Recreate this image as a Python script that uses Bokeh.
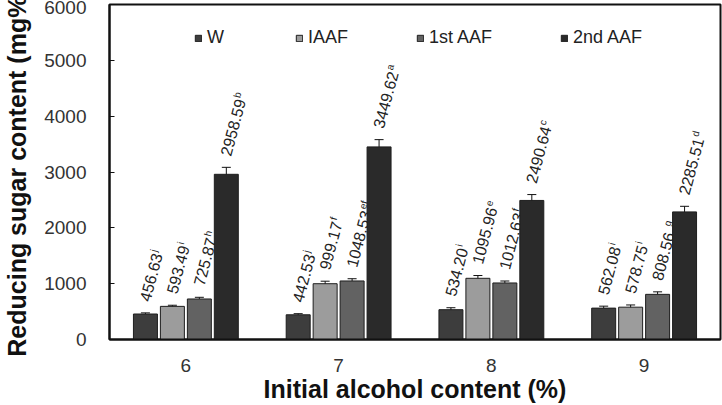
import math
from bokeh.plotting import figure
from bokeh.models import ColumnDataSource, Whisker, TeeHead, FixedTicker, Legend, LegendItem
from bokeh.core.properties import value
from bokeh.embed import file_html
from bokeh.resources import INLINE

# Initial alcohol content (%) groups
alcohol = [6, 7, 8, 9]
tick_labels = {6: "6", 7: "7", 8: "8", 9: "9"}

# Reducing sugar content (mg%) per treatment
w_vals = [456.63, 442.53, 534.20, 562.08]
iaaf_vals = [593.49, 999.17, 1095.96, 578.75]
aaf1_vals = [725.87, 1048.53, 1012.63, 808.56]
aaf2_vals = [2958.59, 3449.62, 2490.64, 2285.51]

# Standard deviations
w_err = [20, 20, 35, 35]
iaaf_err = [20, 45, 50, 40]
aaf1_err = [30, 40, 35, 45]
aaf2_err = [125, 130, 105, 100]

# Significance letters
w_sig = ["j", "j", "i", "i"]
iaaf_sig = ["i", "f", "e", "i"]
aaf1_sig = ["h", "ef", "f", "g"]
aaf2_sig = ["b", "a", "c", "d"]

series = ["W", "IAAF", "1st AAF", "2nd AAF"]
colors = ["#3d3d3d", "#9c9c9c", "#626262", "#2a2a2a"]

FONT = "Liberation Sans"
LABEL_PX = 16
SUP_PX = 10
ANGLE = math.radians(75)

# Arial-metric advance widths (em) used to find where each number ends
ADV = {".": 0.278, " ": 0.278}

def text_width(s, px):
    return sum(ADV.get(c, 0.556) for c in s) * px

p = figure(width=722, height=405, output_backend="svg", toolbar_location=None,
           x_range=(5.5, 9.5), y_range=(0, 6000),
           min_border_left=107, min_border_right=2, min_border_top=4, min_border_bottom=64)

p.background_fill_color = "white"
p.border_fill_color = "white"
p.outline_line_color = "#111111"
p.outline_line_width = 2
p.xgrid.visible = False
p.ygrid.visible = False

step = 0.1765
width = 0.157
offsets = [-1.5 * step, -0.5 * step, 0.5 * step, 1.5 * step]

legend_items = []
all_vals = [w_vals, iaaf_vals, aaf1_vals, aaf2_vals]
all_err = [w_err, iaaf_err, aaf1_err, aaf2_err]
all_sig = [w_sig, iaaf_sig, aaf1_sig, aaf2_sig]

lift = 12   # gap between error cap and value label, px
rise = 4    # superscript raise, px
gap = {"g": 5}

for name, vals, errs, sigs, col, off in zip(series, all_vals, all_err, all_sig, colors, offsets):
    xs = [a + off for a in alcohol]
    nums = [f"{v:.2f}" for v in vals]
    ends = [text_width(n, LABEL_PX) + 1 + gap.get(s, 0) for n, s in zip(nums, sigs)]
    src = ColumnDataSource(dict(
        x=xs, top=vals,
        upper=[v + e for v, e in zip(vals, errs)],
        lower=[v - e for v, e in zip(vals, errs)],
        num=nums, sig=sigs,
        sx_off=[L * math.cos(ANGLE) - rise * math.sin(ANGLE) - 1 for L in ends],
        sy_off=[-(L * math.sin(ANGLE) + rise * math.cos(ANGLE)) - lift for L in ends],
    ))
    r = p.vbar(x="x", top="top", width=width, source=src,
               fill_color=col, line_color="#1e1e1e", line_width=1)
    legend_items.append(LegendItem(label=name, renderers=[r]))
    p.add_layout(Whisker(base="x", upper="upper", lower="lower", source=src,
                         line_color="#111111", line_width=1,
                         upper_head=TeeHead(size=9, line_color="#111111", line_width=1),
                         lower_head=TeeHead(size=9, line_color="#111111", line_width=1)))
    p.text(x="x", y="upper", text="num", source=src,
           angle=ANGLE, text_align="left", text_baseline="middle",
           x_offset=-1, y_offset=-lift,
           text_font=value(FONT), text_font_size=f"{LABEL_PX}px", text_color="#222222")
    p.text(x="x", y="upper", text="sig", source=src,
           angle=ANGLE, text_align="left", text_baseline="middle",
           x_offset="sx_off", y_offset="sy_off",
           text_font=value(FONT), text_font_size=f"{SUP_PX}px", text_color="#222222")

legend = Legend(items=legend_items, orientation="horizontal", location=(85, 291),
                spacing=68, label_standoff=5, glyph_width=8, glyph_height=8,
                padding=0, margin=0, border_line_alpha=0, background_fill_alpha=0,
                label_text_font=FONT, label_text_font_size="18px", label_text_color="#222222")
p.add_layout(legend)

# Axes
p.yaxis.ticker = FixedTicker(ticks=[0, 1000, 2000, 3000, 4000, 5000, 6000])
p.yaxis.major_tick_in = 5
p.yaxis.major_tick_out = 0
p.yaxis.minor_tick_line_color = None
p.yaxis.major_label_standoff = 23
p.yaxis.axis_line_width = 2
p.yaxis.axis_label = "Reducing sugar content (mg%)"
p.yaxis.axis_label_standoff = 10

p.xaxis.ticker = FixedTicker(ticks=alcohol)
p.xaxis.major_label_overrides = tick_labels
p.xaxis.minor_tick_line_color = None
p.xaxis.major_label_standoff = 13
p.xaxis.axis_line_width = 2
p.xaxis.axis_label = "Initial alcohol content (%)"
p.xaxis.axis_label_standoff = 0

for ax in (p.xaxis, p.yaxis):
    ax.major_label_text_font = FONT
    ax.major_label_text_font_size = "19px"
    ax.major_label_text_color = "#333333"
    ax.axis_label_text_font = FONT
    ax.axis_label_text_font_size = "25px"
    ax.axis_label_text_font_style = "bold"
    ax.axis_label_text_color = "#111111"
    ax.axis_line_color = "#111111"
p.yaxis.major_tick_line_color = "#111111"
p.xaxis.major_tick_line_color = None

open("out.html", "w").write(file_html(p, INLINE))
